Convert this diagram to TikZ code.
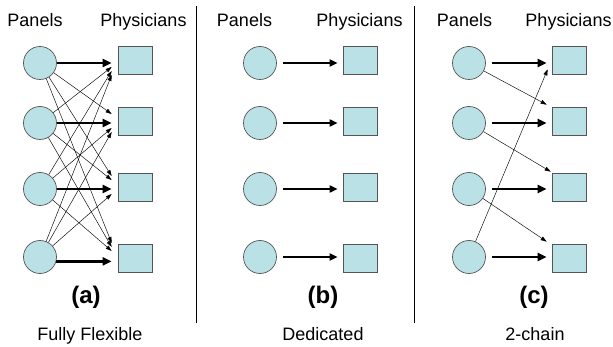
\documentclass[tikz,border=0pt]{standalone}
\usepackage{fontspec}
\setmainfont{Liberation Sans}
\usetikzlibrary{arrows.meta}
\definecolor{fillc}{RGB}{186,225,229}
\definecolor{edgec}{RGB}{85,85,85}
\tikzset{
  panel/.style={circle, draw=edgec, fill=fillc, line width=0.7pt, minimum size=33pt, inner sep=0pt},
  phys/.style={rectangle, draw=edgec, fill=fillc, line width=0.7pt, minimum width=34pt, minimum height=28pt, inner sep=0pt},
  bigarrow/.style={line width=2.4pt, -{Triangle[length=9pt,width=8pt]}},
  midarrow/.style={line width=1.8pt, -{Triangle[length=8pt,width=7pt]}},
  thinarrow/.style={line width=0.45pt, -{Triangle[length=6pt,width=4pt]}},
  toplabel/.style={font=\fontsize{18}{21}\selectfont, anchor=base, inner sep=0pt},
  sublabel/.style={font=\bfseries\fontsize{24}{28}\selectfont, inner sep=0pt},
  namelabel/.style={font=\fontsize{18}{21}\selectfont, anchor=base, inner sep=0pt},
  divider/.style={line width=0.8pt, draw=black}
}
\begin{document}
\begin{tikzpicture}[x=1pt,y=-1pt]
\useasboundingbox (0,0) rectangle (613,347);
% ---------- nodes
\foreach \i/\cy/\sy in {1/63/60,2/123/121,3/189/187,4/257/258}{
  \node[panel] (pa\i) at (40,\cy) {};
  \node[phys] (qa\i) at (135,\sy) {};
  \node[panel] (pb\i) at (260,\cy) {};
  \node[phys] (qb\i) at (360,\sy) {};
  \node[panel] (pc\i) at (469,\cy) {};
  \node[phys] (qc\i) at (569,\sy) {};
}
% thin arrows (a)
\foreach \i in {1,...,4}{
  \foreach \j in {1,...,4}{
    \ifnum\i=\j\else
      \pgfmathsetmacro\off{(\i>\j ? -1 : 1)*(7+4*(abs(\i-\j)-1))}
      \draw[thinarrow] (pa\i) -- ([xshift=-6pt,yshift=\off pt]qa\j.west);
    \fi
  }
}
% thick arrows (a)
\draw[bigarrow] (pa1.east) -- ([xshift=-6pt]pa1.east -| qa1.west);
\draw[bigarrow] (pa2.east) -- ([xshift=-6pt]pa2.east -| qa2.west);
\draw[bigarrow] (pa3.east) -- ([xshift=-6pt]pa3.east -| qa3.west);
\draw[bigarrow] (pa4.-15) -- ([xshift=-6pt]pa4.-15 -| qa4.west);
% arrows (b)
\foreach \i in {1,...,4}{
  \draw[midarrow, shorten <=6pt] (pb\i.east) -- ([xshift=-5pt]pb\i.east -| qb\i.west);
}
% arrows (c)
\foreach \i in {1,...,4}{
  \draw[bigarrow, shorten <=6pt] (pc\i.east) -- ([xshift=-5pt]pc\i.east -| qc\i.west);
}
\draw[thinarrow] (pc1) -- ([shift={(-5pt,2pt)}]qc2.north west);
\draw[thinarrow] (pc2) -- ([shift={(-1pt,1pt)}]qc3.north west);
\draw[thinarrow] (pc3) -- ([shift={(-5pt,2pt)}]qc4.north west);
\draw[thinarrow] (pc4) -- ([shift={(-4pt,5pt)}]qc1.south west);
% dividers
\draw[divider] (196,6) -- (196,323);
\draw[divider] (414,6) -- (414,323);
% labels
\node[toplabel] (la1) at (35,27) {Panels};
\node[toplabel] (la2) at (143.5,27) {Physicians};
\node[toplabel] (lb1) at (244.5,27) {Panels};
\node[toplabel] (lb2) at (359.5,27) {Physicians};
\node[toplabel] (lc1) at (464.5,27) {Panels};
\node[toplabel] (lc2) at (568.5,27) {Physicians};
\node[sublabel] (sa) at (86,297) {(a)};
\node[sublabel] (sb) at (323,297) {(b)};
\node[sublabel] (sc) at (534,297) {(c)};
\node[namelabel] (na) at (90,341) {Fully Flexible};
\node[namelabel] (nb) at (323,341) {Dedicated};
\node[namelabel] (nc) at (535,341) {2-chain};
\end{tikzpicture}
\end{document}
